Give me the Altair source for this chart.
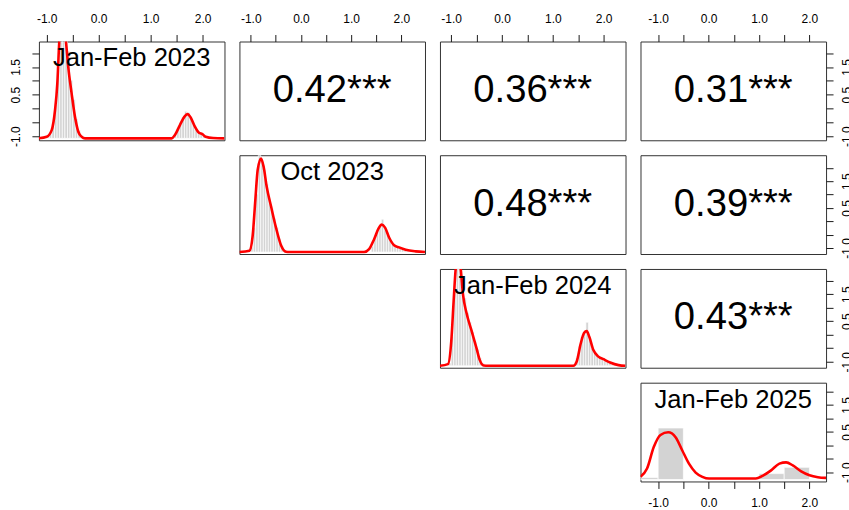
import altair as alt
import pandas as pd

# ---- variables -------------------------------------------------------------
LABELS = ["Jan-Feb 2023", "Oct 2023", "Jan-Feb 2024", "Jan-Feb 2025"]
RANGE_LO = [-1.15, -1.225, -1.22, -1.35]
RANGE_HI = [2.42, 2.47, 2.43, 2.33]

# ---- correlations above the diagonal ---------------------------------------
CORR_ROW = [0, 0, 0, 1, 1, 2]
CORR_COL = [1, 2, 3, 2, 3, 3]
CORR_TEXT = ["0.42***", "0.36***", "0.31***", "0.48***", "0.39***", "0.43***"]

# ---- density curves on the diagonal (x, height relative to panel) ----------
DENS1_X = [-1.15, -1.0, -0.904, -0.84, -0.796, -0.758, -0.692, -0.629, -0.585, -0.52,
           -0.456, -0.392, -0.327, -0.263, 1.404, 1.467, 1.563, 1.647, 1.711, 1.769,
           1.852, 1.929, 1.994, 2.058, 2.2, 2.42]
DENS1_Y = [0.0, 0.016, 0.085, 0.29, 0.565, 1.0, 1.3, 1.0, 0.736, 0.462,
           0.222, 0.068, 0.016, 0.0, 0.0, 0.034, 0.137, 0.222, 0.25, 0.216,
           0.12, 0.058, 0.044, 0.016, 0.003, 0.0]

DENS2_X = [-1.225, -1.026, -0.962, -0.908, -0.862, -0.795, -0.743, -0.683, -0.596, -0.497,
           -0.397, -0.298, -0.232, 1.258, 1.357, 1.457, 1.543, 1.61, 1.675, 1.755,
           1.854, 1.954, 2.086, 2.285, 2.47]
DENS2_Y = [0.0, 0.014, 0.166, 0.54, 0.847, 0.966, 0.88, 0.677, 0.473, 0.252,
           0.071, 0.003, 0.0, 0.0, 0.03, 0.133, 0.242, 0.283, 0.252, 0.15,
           0.071, 0.048, 0.024, 0.007, 0.0]

DENS3_X = [-1.22, -1.063, -0.996, -0.951, -0.911, -0.865, -0.812, -0.767, -0.70, -0.60,
           -0.50, -0.438, -0.359, -0.274, 1.404, 1.47, 1.549, 1.614, 1.667, 1.719,
           1.798, 1.897, 1.996, 2.128, 2.292, 2.43]
DENS3_Y = [0.0, 0.017, 0.263, 0.669, 1.0, 1.15, 1.0, 0.737, 0.55, 0.365,
           0.179, 0.061, 0.003, 0.0, 0.0, 0.044, 0.23, 0.338, 0.358, 0.297,
           0.162, 0.095, 0.068, 0.034, 0.007, 0.0]

DENS4_X = [-1.35, -1.22, -1.087, -0.954, -0.80, -0.654, -0.521, -0.389, -0.256, -0.123,
           0.01, 0.938, 1.07, 1.24, 1.405, 1.538, 1.67, 1.837, 2.002, 2.167, 2.33]
DENS4_Y = [0.028, 0.113, 0.335, 0.46, 0.488, 0.437, 0.30, 0.164, 0.072, 0.028,
           0.01, 0.01, 0.038, 0.095, 0.164, 0.177, 0.146, 0.085, 0.044, 0.024, 0.017]

# ---- histograms on the diagonal (bin start, bar height) --------------------
HIST1_START = [-1.00, -0.95, -0.90, -0.85, -0.80, -0.75, -0.70, -0.65, -0.60, -0.55,
               -0.50, -0.45, -0.40, -0.35,
               1.45, 1.50, 1.55, 1.60, 1.65, 1.70, 1.75, 1.80, 1.85, 1.90,
               1.95, 2.00, 2.05, 2.10]
HIST1_H = [0.02, 0.06, 0.12, 0.35, 0.70, 1.20, 1.50, 1.30, 0.90, 0.60,
           0.40, 0.20, 0.08, 0.03,
           0.04, 0.10, 0.16, 0.22, 0.28, 0.27, 0.22, 0.15, 0.10, 0.06,
           0.05, 0.04, 0.02, 0.01]

HIST2_START = [-1.00, -0.95, -0.90, -0.85, -0.80, -0.75, -0.70, -0.65, -0.60, -0.55,
               -0.50, -0.45, -0.40, -0.35,
               1.40, 1.45, 1.50, 1.55, 1.60, 1.65, 1.70, 1.75, 1.80, 1.85,
               1.90, 1.95, 2.00, 2.05, 2.10]
HIST2_H = [0.05, 0.25, 0.60, 1.00, 0.95, 0.85, 0.70, 0.55, 0.45, 0.35,
           0.25, 0.14, 0.06, 0.02,
           0.06, 0.14, 0.22, 0.26, 0.34, 0.24, 0.18, 0.12, 0.08, 0.06,
           0.05, 0.04, 0.03, 0.02, 0.01]

HIST3_START = [-1.05, -1.00, -0.95, -0.90, -0.85, -0.80, -0.75, -0.70, -0.65, -0.60,
               -0.55, -0.50, -0.45, -0.40,
               1.45, 1.50, 1.55, 1.60, 1.65, 1.70, 1.75, 1.80, 1.85, 1.90,
               1.95, 2.00, 2.05, 2.10, 2.15, 2.20]
HIST3_H = [0.03, 0.30, 0.80, 1.20, 1.20, 0.90, 0.70, 0.55, 0.45, 0.35,
           0.25, 0.17, 0.08, 0.03,
           0.08, 0.20, 0.30, 0.36, 0.45, 0.28, 0.18, 0.13, 0.10, 0.08,
           0.07, 0.05, 0.04, 0.03, 0.02, 0.01]

HIST4_START = [-1.5, -1.0, 1.0, 1.5]
HIST4_H = [0.02, 0.532, 0.061, 0.126]

DENS_X = [DENS1_X, DENS2_X, DENS3_X, DENS4_X]
DENS_Y = [DENS1_Y, DENS2_Y, DENS3_Y, DENS4_Y]
HIST_START = [HIST1_START, HIST2_START, HIST3_START, HIST4_START]
HIST_H = [HIST1_H, HIST2_H, HIST3_H, HIST4_H]
HIST_WIDTH = [0.05, 0.05, 0.05, 0.5]

# ---- layout / style --------------------------------------------------------
W, H = 186, 99
TICKS = [-1.0, -0.5, 0.0, 0.5, 1.0, 1.5, 2.0]
FONT = "Liberation Sans"
HIST_DOMAIN = [-0.02, 1.0]
TITLE_POS = 0.825


def label_expr(shown):
    cond = " || ".join(f"datum.value == {v}" for v in shown)
    return (f"({cond}) ? (datum.value < 0 ? '-' : '') + "
            f"format(abs(datum.value), '.1f') : ''")


def make_axis(orient):
    common = dict(values=TICKS, tickSize=7, tickColor="#1a1a1a", tickWidth=1,
                  domain=False, grid=False, labelFont=FONT, labelFontSize=12,
                  labelColor="black", labelPadding=9, labelOverlap=False,
                  labelFlush=False, title=None)
    if orient in ("top", "bottom"):
        return alt.Axis(orient=orient, labelExpr=label_expr([-1, 0, 1, 2]), **common)
    return alt.Axis(orient=orient, labelExpr=label_expr([-1, 0.5, 1.5]),
                    labelAngle=270, labelAlign="center",
                    labelBaseline="bottom" if orient == "left" else "top", **common)


def var_scale(k):
    return alt.Scale(domain=[RANGE_LO[k], RANGE_HI[k]], nice=False, zero=False)


def axes_for(i, j):
    x_axis = None
    y_axis = None
    if i == 0:
        x_axis = make_axis("top")
    if i == 3 and j == 3:
        x_axis = make_axis("bottom")
    if j == 3:
        y_axis = make_axis("right")
    if i == 0 and j == 0:
        y_axis = make_axis("left")
    return x_axis, y_axis


def mid(k):
    return (RANGE_LO[k] + RANGE_HI[k]) / 2


def corr_panel(i, j, text):
    x_axis, y_axis = axes_for(i, j)
    df = pd.DataFrame({"x": [mid(j)], "y": [mid(i)], "r": [text]})
    return alt.Chart(df).mark_text(font=FONT, fontSize=38.3, color="black",
                                   align="center", baseline="middle").encode(
        x=alt.X("x:Q", scale=var_scale(j), axis=x_axis),
        y=alt.Y("y:Q", scale=var_scale(i), axis=y_axis),
        text="r:N",
    ).properties(width=W, height=H)


def diag_panel(k):
    x_axis, y_axis = axes_for(k, k)
    hs = alt.Scale(domain=HIST_DOMAIN, nice=False, zero=False)
    # invisible layer that carries the variable's own axes
    carrier = alt.Chart(pd.DataFrame({"x": [mid(k)], "y": [mid(k)]})).mark_point(
        opacity=0).encode(
        x=alt.X("x:Q", scale=var_scale(k), axis=x_axis),
        y=alt.Y("y:Q", scale=var_scale(k), axis=y_axis),
    )
    hist_df = pd.DataFrame({"x": HIST_START[k], "h": HIST_H[k]})
    hist_df["x2"] = hist_df["x"] + HIST_WIDTH[k]
    hist_df["y0"] = 0.0
    bars = alt.Chart(hist_df).mark_rect(fill="#d3d3d3", stroke="white",
                                        strokeWidth=0.7, clip=True).encode(
        x=alt.X("x:Q", scale=var_scale(k), axis=None),
        x2="x2:Q",
        y=alt.Y("y0:Q", scale=hs, axis=None),
        y2="h:Q",
    )
    dens_df = pd.DataFrame({"x": DENS_X[k], "d": DENS_Y[k]})
    line = alt.Chart(dens_df).mark_line(color="#ff0000", strokeWidth=2.6, clip=True,
                                        interpolate="monotone").encode(
        x=alt.X("x:Q", scale=var_scale(k), axis=None),
        y=alt.Y("d:Q", scale=hs, axis=None),
    )
    title_df = pd.DataFrame({"x": [mid(k)], "t": [TITLE_POS], "name": [LABELS[k]]})
    title = alt.Chart(title_df).mark_text(font=FONT, fontSize=25.6, color="black",
                                          align="center", baseline="middle").encode(
        x=alt.X("x:Q", scale=var_scale(k), axis=None),
        y=alt.Y("t:Q", scale=hs, axis=None),
        text="name:N",
    )
    return (alt.layer(carrier, bars, line, title)
            .resolve_scale(y="independent")
            .resolve_axis(x="independent", y="independent")
            .properties(width=W, height=H))


def blank_panel():
    return alt.Chart(pd.DataFrame({"x": [0], "y": [0]})).mark_point(opacity=0).encode(
        x=alt.X("x:Q", axis=None), y=alt.Y("y:Q", axis=None),
    ).properties(width=W, height=H, view=alt.ViewBackground(stroke=None))


corr_lookup = {(r, c): t for r, c, t in zip(CORR_ROW, CORR_COL, CORR_TEXT)}
panels = []
for i in range(4):
    for j in range(4):
        if i == j:
            panels.append(diag_panel(i))
        elif (i, j) in corr_lookup:
            panels.append(corr_panel(i, j, corr_lookup[(i, j)]))
        else:
            panels.append(blank_panel())

chart = alt.concat(*panels, columns=4, spacing=15, bounds="flush").properties(
    padding={"left": 9, "top": 11, "right": -5, "bottom": 0},
    background="white",
).configure_view(stroke="#333333", strokeWidth=1)

chart.save("out.html", embed_options={"renderer": "svg", "actions": False})
